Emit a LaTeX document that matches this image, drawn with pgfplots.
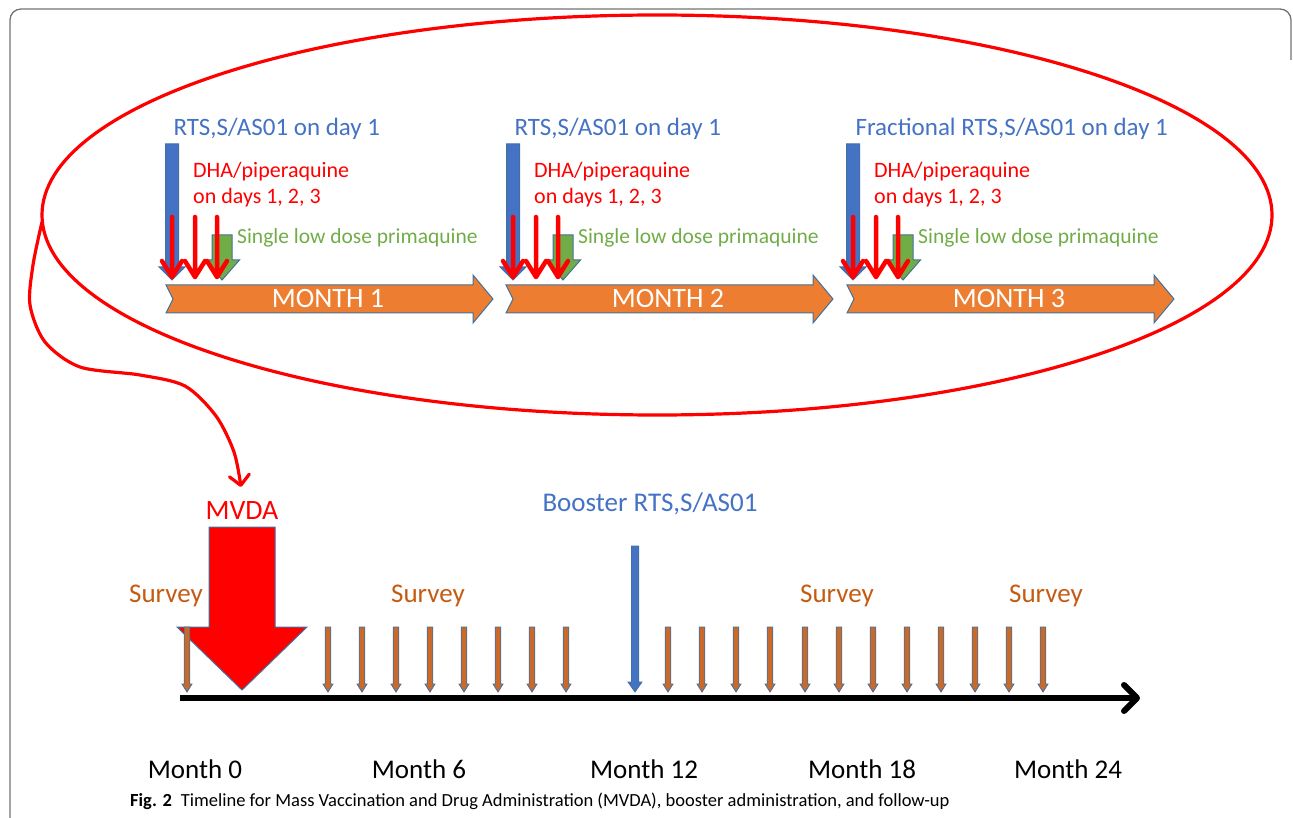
\documentclass[border=0pt]{standalone}
\usepackage{pgfplots}
\pgfplotsset{compat=1.18}
\usepackage{pgfplotstable}
\usetikzlibrary{arrows.meta}
\usepackage{fontspec}
\setmainfont{Carlito}
\definecolor{cblue}{HTML}{4472C4}
\definecolor{cline}{HTML}{41719C}
\definecolor{corange}{HTML}{ED7D31}
\definecolor{cgreen}{HTML}{70AD47}
\definecolor{csurvey}{HTML}{C55A11}
\definecolor{cred}{HTML}{FF0000}

% block arrows (tip at the data point, canvas y up)
\pgfdeclareplotmark{survey}{%
 \pgfpathmoveto{\pgfpoint{0pt}{0pt}}%
 \pgfpathlineto{\pgfpoint{-5pt}{8pt}}\pgfpathlineto{\pgfpoint{-2.8pt}{8pt}}%
 \pgfpathlineto{\pgfpoint{-2.8pt}{65pt}}\pgfpathlineto{\pgfpoint{2.8pt}{65pt}}%
 \pgfpathlineto{\pgfpoint{2.8pt}{8pt}}\pgfpathlineto{\pgfpoint{5pt}{8pt}}%
 \pgfpathclose\pgfusepathqfillstroke}
\pgfdeclareplotmark{booster}{%
 \pgfpathmoveto{\pgfpoint{0pt}{0pt}}%
 \pgfpathlineto{\pgfpoint{-7pt}{10pt}}\pgfpathlineto{\pgfpoint{-3.6pt}{10pt}}%
 \pgfpathlineto{\pgfpoint{-3.6pt}{146pt}}\pgfpathlineto{\pgfpoint{3.6pt}{146pt}}%
 \pgfpathlineto{\pgfpoint{3.6pt}{10pt}}\pgfpathlineto{\pgfpoint{7pt}{10pt}}%
 \pgfpathclose\pgfusepathqfillstroke}
\pgfdeclareplotmark{mvda}{%
 \pgfpathmoveto{\pgfpoint{0pt}{0pt}}%
 \pgfpathlineto{\pgfpoint{-65pt}{63pt}}\pgfpathlineto{\pgfpoint{-33pt}{63pt}}%
 \pgfpathlineto{\pgfpoint{-33pt}{163pt}}\pgfpathlineto{\pgfpoint{33pt}{163pt}}%
 \pgfpathlineto{\pgfpoint{33pt}{63pt}}\pgfpathlineto{\pgfpoint{65pt}{63pt}}%
 \pgfpathclose\pgfusepathqfillstroke}
\pgfdeclareplotmark{bluebar}{%
 \pgfpathmoveto{\pgfpoint{0pt}{0pt}}%
 \pgfpathlineto{\pgfpoint{-13pt}{13pt}}\pgfpathlineto{\pgfpoint{-6.5pt}{13pt}}%
 \pgfpathlineto{\pgfpoint{-6.5pt}{136pt}}\pgfpathlineto{\pgfpoint{6.5pt}{136pt}}%
 \pgfpathlineto{\pgfpoint{6.5pt}{13pt}}\pgfpathlineto{\pgfpoint{13pt}{13pt}}%
 \pgfpathclose\pgfusepathqfillstroke}
\pgfdeclareplotmark{greenarrow}{%
 \pgfpathmoveto{\pgfpoint{0pt}{0pt}}%
 \pgfpathlineto{\pgfpoint{-17.5pt}{20pt}}\pgfpathlineto{\pgfpoint{-10pt}{20pt}}%
 \pgfpathlineto{\pgfpoint{-10pt}{45pt}}\pgfpathlineto{\pgfpoint{10pt}{45pt}}%
 \pgfpathlineto{\pgfpoint{10pt}{20pt}}\pgfpathlineto{\pgfpoint{17.5pt}{20pt}}%
 \pgfpathclose\pgfusepathqfillstroke}
\pgfdeclareplotmark{redarrow}{%
 \pgfsetroundcap\pgfsetroundjoin
 \pgfpathmoveto{\pgfpoint{0pt}{1pt}}\pgfpathlineto{\pgfpoint{0pt}{61pt}}%
 \pgfpathmoveto{\pgfpoint{-10pt}{17pt}}\pgfpathlineto{\pgfpoint{0pt}{1pt}}%
 \pgfpathlineto{\pgfpoint{10pt}{17pt}}%
 \pgfusepathqstroke}
\pgfdeclareplotmark{montharrow}{%
 \pgfpathmoveto{\pgfpoint{0pt}{0pt}}%
 \pgfpathlineto{\pgfpoint{-7pt}{14pt}}\pgfpathlineto{\pgfpoint{300pt}{14pt}}%
 \pgfpathlineto{\pgfpoint{300pt}{24pt}}\pgfpathlineto{\pgfpoint{320pt}{0pt}}%
 \pgfpathlineto{\pgfpoint{300pt}{-24pt}}\pgfpathlineto{\pgfpoint{300pt}{-14pt}}%
 \pgfpathlineto{\pgfpoint{-7pt}{-14pt}}%
 \pgfpathclose\pgfusepathqfillstroke}

% data (pixel positions of the timeline events)
\pgfplotstableread{
x y
187 692
328 692
362 692
396 692
430 692
464 692
498 692
532 692
566 692
668 692
702 692
736 692
770 692
805 692
839 692
873 692
907 692
941 692
975 692
1009 692
1043 692
}\surveys
\pgfplotstableread{
x y
172 278
195 278
217 278
513 278
536 278
558 278
853 278
876 278
898 278
}\reds
\pgfplotstableread{
x y
172 280
513 280
853 280
}\blues
\pgfplotstableread{
x y
222 280
563 280
903 280
}\greens
\pgfplotstableread{
x y label
173 299 {MONTH 1}
513 299 {MONTH 2}
854 299 {MONTH 3}
}\months

\begin{document}
\begin{tikzpicture}
\useasboundingbox (0,0) rectangle (1293pt,818pt);
\begin{axis}[at={(0,0)}, anchor=south west, scale only axis,
  width=1293pt, height=818pt, xmin=0, xmax=1293, ymin=0, ymax=818,
  y dir=reverse, hide axis, clip=false]
% frame
\draw[black!55, line width=1.3pt, rounded corners=11pt]
  (axis cs:10,830) -- (axis cs:10,9) -- (axis cs:1291,9) -- (axis cs:1291,60);
% ellipse and connector
\draw[cred, line width=3.2pt] (axis cs:657,215) ellipse [x radius=615pt, y radius=200pt];
\addplot[smooth, cred, line width=3.2pt, -{Straight Barb[length=10pt,width=20pt,round]}]
  coordinates {(42,222) (33,265) (30,305) (45,342) (80,367) (140,375) (185,386) (216,416) (234,452) (241,487)};

% top: three monthly rounds
\addplot[only marks, mark=montharrow, mark options={fill=corange, draw=cline, line width=1pt},
  point meta=explicit symbolic, nodes near coords,
  every node near coord/.style={anchor=center, xshift=155pt, text=white, font=\fontsize{28}{28}\selectfont}]
  table[x=x,y=y,meta=label] {\months};
\addplot[only marks, mark=bluebar, mark options={fill=cblue, draw=cline, line width=1pt}] table[x=x,y=y] {\blues};
\addplot[only marks, mark=greenarrow, mark options={fill=cgreen, draw=cline, line width=1pt}] table[x=x,y=y] {\greens};
\addplot[only marks, mark=redarrow, mark options={draw=cred, line width=4.5pt}] table[x=x,y=y] {\reds};

\node[anchor=west, text=cblue, font=\fontsize{25}{25}\selectfont] at (axis cs:170,129) {RTS,S/AS01 on day 1};
\node[anchor=west, text=cblue, font=\fontsize{25}{25}\selectfont] at (axis cs:511,129) {RTS,S/AS01 on day 1};
\node[anchor=west, text=cblue, font=\fontsize{25}{25}\selectfont] at (axis cs:852,129) {Fractional RTS,S/AS01 on day 1};
\node[anchor=west, text=cred, font=\fontsize{22}{26}\selectfont, align=left, inner sep=0pt] at (axis cs:193,185) {DHA/piperaquine\\on days 1, 2, 3};
\node[anchor=west, text=cred, font=\fontsize{22}{26}\selectfont, align=left, inner sep=0pt] at (axis cs:534,185) {DHA/piperaquine\\on days 1, 2, 3};
\node[anchor=west, text=cred, font=\fontsize{22}{26}\selectfont, align=left, inner sep=0pt] at (axis cs:874,185) {DHA/piperaquine\\on days 1, 2, 3};
\node[anchor=west, text=cgreen, font=\fontsize{21.5}{22}\selectfont, inner sep=0pt] at (axis cs:237,238) {Single low dose primaquine};
\node[anchor=west, text=cgreen, font=\fontsize{21.5}{22}\selectfont, inner sep=0pt] at (axis cs:578,238) {Single low dose primaquine};
\node[anchor=west, text=cgreen, font=\fontsize{21.5}{22}\selectfont, inner sep=0pt] at (axis cs:918,238) {Single low dose primaquine};

% bottom timeline
\addplot[black, line width=6pt, -{Straight Barb[length=13pt,width=26pt,round]}] coordinates {(180,698) (1140,698)};
\addplot[only marks, mark=mvda, mark options={fill=cred, draw=cline, line width=1pt}] coordinates {(242,690)};
\addplot[only marks, mark=booster, mark options={fill=cblue, draw=cline, line width=0.8pt}] coordinates {(635,692)};
\addplot[only marks, mark=survey, mark options={fill=corange!85!black, draw=cline, line width=0.8pt}] table[x=x,y=y] {\surveys};

\node[text=cred, font=\fontsize{28}{28}\selectfont] at (axis cs:242,511) {MVDA};
\node[text=cblue, font=\fontsize{27}{27}\selectfont] at (axis cs:650,504) {Booster RTS,S/AS01};
\node[text=csurvey, font=\fontsize{27}{27}\selectfont] at (axis cs:166,596) {Survey};
\node[text=csurvey, font=\fontsize{27}{27}\selectfont] at (axis cs:428,596) {Survey};
\node[text=csurvey, font=\fontsize{27}{27}\selectfont] at (axis cs:837,596) {Survey};
\node[text=csurvey, font=\fontsize{27}{27}\selectfont] at (axis cs:1046,596) {Survey};
\node[text=black, font=\fontsize{27}{27}\selectfont] at (axis cs:195,769) {Month 0};
\node[text=black, font=\fontsize{27}{27}\selectfont] at (axis cs:419,769) {Month 6};
\node[text=black, font=\fontsize{27}{27}\selectfont] at (axis cs:644,769) {Month 12};
\node[text=black, font=\fontsize{27}{27}\selectfont] at (axis cs:862,769) {Month 18};
\node[text=black, font=\fontsize{27}{27}\selectfont] at (axis cs:1068,769) {Month 24};

% caption
\node[anchor=base west, inner sep=0pt, font=\fontsize{18.5}{19}\selectfont] at (axis cs:130,806)
  {\textbf{Fig. 2}\hspace{9pt}Timeline for Mass Vaccination and Drug Administration (MVDA), booster administration, and follow-up};
\end{axis}
\end{tikzpicture}
\end{document}
